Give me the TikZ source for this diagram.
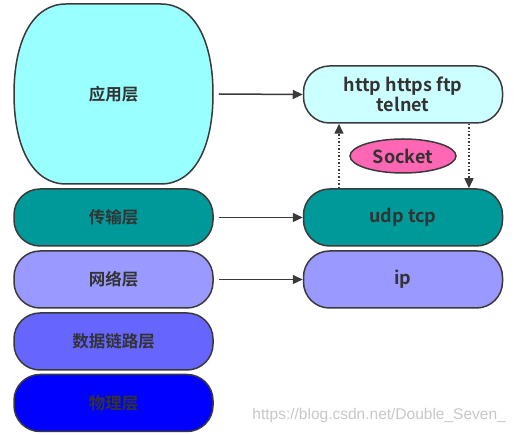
\documentclass[tikz,border=0pt]{standalone}
\usepackage{fontspec}
\setmainfont{Liberation Sans}
\newfontfamily\cjk{Noto Sans CJK SC}[BoldFont={* Bold}]
\usetikzlibrary{arrows.meta,shapes.geometric}
\definecolor{edge}{HTML}{3A3A3A}
\definecolor{txt}{HTML}{333333}
\definecolor{appc}{HTML}{99FFFF}
\definecolor{httpc}{HTML}{CCFFFF}
\definecolor{transc}{HTML}{009999}
\definecolor{netc}{HTML}{9999FF}
\definecolor{linkc}{HTML}{6666FF}
\definecolor{physc}{HTML}{0000FF}
\definecolor{sockc}{HTML}{FF66B3}
\definecolor{wm}{HTML}{C8C8C8}
\tikzset{
  layer/.style={draw=edge, line width=1.5pt, rounded corners=26pt, minimum width=199pt, minimum height=57pt, inner sep=0pt, text=txt, font=\cjk\bfseries\fontsize{16.5}{20}\selectfont, align=center},
  latin/.style={font=\cjk\bfseries\fontsize{18}{20}\selectfont},
  conn/.style={draw=edge, line width=1.5pt, -{Triangle[length=10pt,width=9pt]}},
  dotconn/.style={draw=edge, line width=1.5pt, dotted, -{Triangle[length=10pt,width=9pt]}},
}
\begin{document}
\begin{tikzpicture}[x=1pt,y=-1pt]
\useasboundingbox (0,0) rectangle (515,435);
\fill[white] (0,0) rectangle (515,435);
% left stack
\draw[draw=edge, line width=1.5pt, fill=appc] (66,4) -- (161,4) .. controls (194,4) and (213,40) .. (213,94) .. controls (213,148) and (194,184) .. (161,184) -- (66,184) .. controls (33,184) and (14,148) .. (14,94) .. controls (14,40) and (33,4) .. (66,4) -- cycle;
\node[layer, draw=none, minimum height=180pt] (app) at (113.5,94) {应用层};
\node[layer, fill=transc] (trans) at (113.5,217.5) {传输层};
\node[layer, fill=netc] (net) at (113.5,279.5) {网络层};
\node[layer, fill=linkc] (link) at (113.5,341.5) {数据链路层};
\node[layer, fill=physc] (phys) at (113.5,403) {物理层};
% right stack
\node[layer, latin, fill=httpc] (http) at (403,94.5) {http https ftp\\telnet};
\node[layer, latin, fill=transc] (udp) at (403,217.5) {udp tcp};
\node[layer, latin, fill=netc] (ip) at (403,279.5) {ip};
% socket
\node[ellipse, draw=edge, line width=1.5pt, fill=sockc, minimum width=106pt, minimum height=34pt, inner sep=0pt, text=txt, latin] (sock) at (403,156) {Socket};
% arrows
\draw[conn] (app.east) ++(5pt,0) coordinate (a0) (a0) -- (http.west);
\draw[conn] (trans.east) ++(5pt,0) coordinate (t0) (t0) -- (udp.west);
\draw[conn] (net.east) ++(5pt,0) coordinate (n0) (n0) -- (ip.west);
\draw[dotconn] (udp.north -| 339,0) -- (http.south -| 339,0);
\draw[dotconn] (http.south -| 469,0) -- (udp.north -| 469,0);
% watermark
\node[text=wm, font=\fontsize{15.5}{18}\selectfont, anchor=east, inner sep=0pt] (wmark) at (506,415) {https://blog.csdn.net/Double\_Seven\_};
\end{tikzpicture}
\end{document}
